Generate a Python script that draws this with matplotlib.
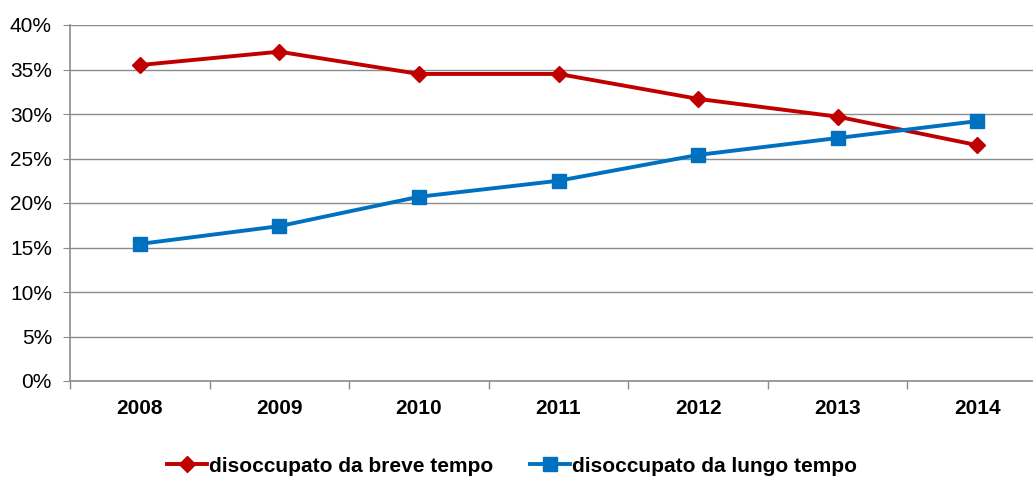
import matplotlib.pyplot as plt
from matplotlib.ticker import FuncFormatter, FixedLocator

plt.rcParams['font.family'] = ['Liberation Sans', 'DejaVu Sans']

years = ['2008', '2009', '2010', '2011', '2012', '2013', '2014']
breve = [35.5, 37.0, 34.5, 34.5, 31.7, 29.7, 26.5]
lungo = [15.4, 17.4, 20.7, 22.5, 25.4, 27.3, 29.2]

fig = plt.figure(figsize=(10.33, 4.78), dpi=100)
# plot area runs past the right edge, as in the original crop
ax = fig.add_axes([70 / 1033, 1 - 381 / 478, 977 / 1033, 356 / 478])

x = list(range(len(years)))
ax.plot(x, breve, color='#C00000', lw=2.8, marker='D', ms=8,
        label='disoccupato da breve tempo')
ax.plot(x, lungo, color='#0070C0', lw=2.8, marker='s', ms=10,
        label='disoccupato da lungo tempo')

ax.set_xlim(-0.5, len(years) - 0.5)
ax.set_ylim(0, 40)
ax.set_yticks(range(0, 41, 5))
ax.yaxis.set_major_formatter(FuncFormatter(lambda v, p: '%d%%' % v))
ax.yaxis.grid(True, color='#8c8c8c', lw=1)
ax.set_axisbelow(True)

ax.set_xticks(x)
ax.set_xticklabels(years, fontweight='bold', fontsize=15)
ax.xaxis.set_minor_locator(FixedLocator([i + 0.5 for i in range(-1, len(years))]))
ax.tick_params(axis='x', which='major', length=0, pad=13)
ax.tick_params(axis='x', which='minor', length=6, color='#8c8c8c', width=1)
ax.tick_params(axis='y', length=5, color='#8c8c8c', labelsize=15, pad=8)

for s in ['top', 'right']:
    ax.spines[s].set_visible(False)
for s in ['left', 'bottom']:
    ax.spines[s].set_color('#8c8c8c')
    ax.spines[s].set_linewidth(1.2)

fig.legend(loc='center', bbox_to_anchor=(512 / 1033, 1 - 466 / 478), ncol=2,
           frameon=False, prop={'weight': 'bold', 'size': 15},
           handlelength=1.9, handletextpad=0.1, columnspacing=1.8)

fig.savefig('out.png', dpi=100, facecolor='w')
